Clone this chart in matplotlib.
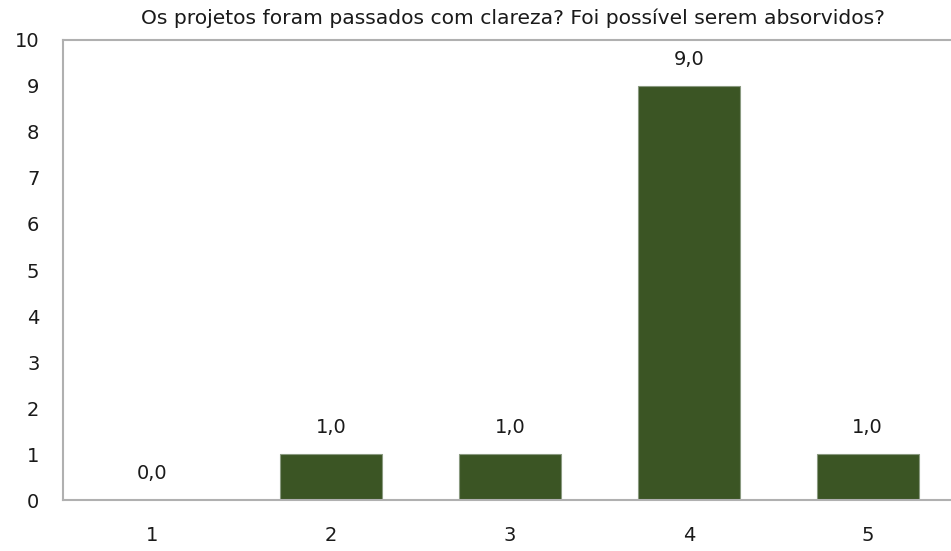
import matplotlib
matplotlib.use('Agg')
import matplotlib.pyplot as plt

# Dados do gráfico
categorias = ['1', '2', '3', '4', '5']
valores = [0, 1, 1, 9, 1]
rotulos = ['0,0', '1,0', '1,0', '9,0', '1,0']
titulo = 'Os projetos foram passados com clareza? Foi possível serem absorvidos?'

plt.rcParams['font.family'] = ['DejaVu Sans']

fig = plt.figure(figsize=(9.51, 5.51), dpi=100)
ax = fig.add_axes([63 / 951, 51 / 551, 894 / 951, 460 / 551])

x = range(len(categorias))
ax.bar(x, valores, width=0.57, color='#3b5524', edgecolor='#8a9a80', linewidth=0.8)

for xi, v, r in zip(x, valores, rotulos):
    ax.annotate(r, (xi, v), xytext=(0, 19), textcoords='offset points',
                ha='center', va='center', fontsize=14, color='#1a1a1a')

ax.set_xlim(-0.5, 4.5)
ax.set_ylim(0, 10)
ax.set_yticks(range(0, 11))
ax.set_xticks(list(x))
ax.set_xticklabels(categorias)
ax.tick_params(axis='both', length=0, labelsize=14, colors='#1a1a1a')
ax.tick_params(axis='x', pad=19)
ax.tick_params(axis='y', pad=17)

for s in ['left', 'top', 'bottom']:
    ax.spines[s].set_color('#b0b0b0')
    ax.spines[s].set_linewidth(1.5)
ax.spines['right'].set_visible(False)

fig.text(513 / 951, 1 - 18 / 551, titulo, ha='center', va='center', fontsize=14.6, color='#1a1a1a')

fig.savefig('out.png', dpi=100)
